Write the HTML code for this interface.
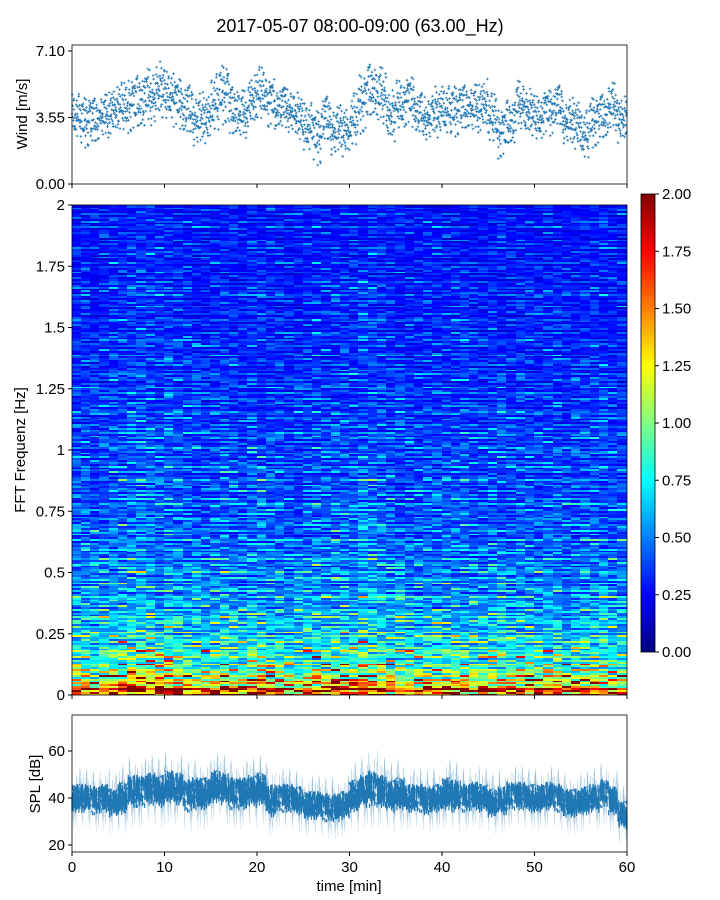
<!DOCTYPE html>
<html><head><meta charset="utf-8"><style>
body{margin:0;background:#fff;width:720px;height:900px;overflow:hidden;font-family:"Liberation Sans",sans-serif}
#wrap{position:relative;width:720px;height:900px}
svg{position:absolute;left:0;top:0}
#heat{position:absolute;left:72px;top:205px;width:555px;height:490px;image-rendering:pixelated}
</style></head><body>
<div id="wrap">
<canvas id="heat" width="555" height="490"></canvas>
<svg id="s" width="720" height="900"></svg>
</div>
<script>
// ---- data ----
const minutes=[0,1,2,3,4,5,6,7,8,9,10,11,12,13,14,15,16,17,18,19,20,21,22,23,24,25,26,27,28,29,30,31,32,33,34,35,36,37,38,39,40,41,42,43,44,45,46,47,48,49,50,51,52,53,54,55,56,57,58,59];
const windMean=[3.6,3.4,3.4,3.6,3.9,4.1,4.3,4.4,4.6,5.0,4.7,4.4,4.0,3.4,3.5,4.3,4.9,3.9,3.7,4.4,4.8,4.4,4.1,3.9,3.6,3.0,2.6,3.5,2.8,2.8,3.4,4.4,5.0,4.7,3.6,4.2,4.5,3.8,3.5,3.8,3.9,4.0,4.1,4.0,4.2,3.5,2.8,3.3,4.2,3.8,3.5,3.9,4.2,3.3,3.2,2.6,3.4,3.6,4.1,3.4];
const windSpread=[1.0,1.1,1.1,1.0,1.0,1.1,1.2,1.3,1.3,1.2,1.1,1.1,1.2,1.2,1.1,1.3,1.3,1.2,1.1,1.1,1.2,1.1,1.0,1.0,1.0,1.1,1.2,1.1,1.1,1.1,1.2,1.3,1.3,1.3,1.1,1.1,1.1,1.0,1.0,1.1,1.1,1.1,1.1,1.1,1.1,1.1,1.1,1.1,1.1,1.0,1.0,1.0,1.0,1.0,1.1,1.1,1.1,1.1,1.1,1.0];
const splMean=[40,40,39,40,38,40,43,43,44,43,45,44,41,42,42,45,44,42,42,43,44,39,40,40,39,37,37,36,36,37,41,43,44,43,41,42,40,40,39,40,42,41,40,41,40,38,39,41,41,40,40,41,40,38,38,39,40,42,39,33];
const splSpread=[7,7,7,7,7,8,8,8,8,8,8,8,8,8,8,8,8,8,8,8,8,8,7,7,7,7,7,7,7,7,8,8,9,8,8,8,7,7,7,7,8,8,7,7,7,7,7,7,7,7,7,7,7,7,7,7,7,7,7,7];
const noiseOffsets=[0.1,-0.6,0.4,0.9,-0.2,-0.9,0.3,0.6,-0.4,0.0,0.8,-0.7,0.2,-0.3,0.5,-1.0,0.7,0.1,-0.5,0.35,-0.15,0.95,-0.8,0.45,-0.05,0.25,-0.65,0.75,-0.35,0.55,-0.45,0.15,0.85,-0.25,-0.75,0.65,0.05,-0.55,0.3,-0.1];
const freqProfile=[1.85,1.0,0.8,0.66,0.58,0.52,0.48,0.46,0.44,0.42,0.41,0.39,0.37,0.36,0.35,0.34,0.33,0.32,0.31,0.3,0.3];
const timeFactor=[1.0,1.0,0.95,1.0,1.05,1.05,1.1,1.15,1.1,1.05,1.1,1.05,1.0,1.0,0.95,1.0,1.05,1.0,0.95,1.05,1.05,1.0,1.0,0.95,0.95,1.0,1.05,1.0,1.05,1.05,1.0,1.1,1.1,1.05,1.0,1.0,0.95,0.95,1.0,1.0,1.0,1.0,1.0,0.95,0.95,1.0,1.0,0.95,1.0,1.0,0.95,1.0,1.0,0.95,0.95,1.0,1.0,1.0,0.95,0.95];
const rowTexture=[1.1,0.85,1.0,1.3,0.9,0.75,1.2,0.95,1.05,0.8,1.25,0.85,1.0,1.15,0.8,0.95,1.35,0.9,1.05,0.75,1.2,1.0,0.9,1.3,0.8,1.05,0.95,0.75,1.2,0.9,1.0,1.1,0.8,1.3,0.95,0.85,1.1,0.8,1.2,1.0,0.9,1.25,0.8,1.05,0.95,1.15,0.75,1.05,0.9];
const cellTexture=[1.0,0.6,1.5,0.8,1.2,0.5,1.7,0.9,1.1,0.7,1.4,0.55,1.0,1.3,0.75,1.8,0.65,1.1,0.5,1.25,0.9,1.6,0.7,1.0,0.6,1.45,0.85,1.15,0.65,1.9,0.95,1.2,0.5,1.35,0.75,1.05,1.5];
const xTicks=[0,10,20,30,40,50,60];
const windTicks=["0.00","3.55","7.10"];
const freqTicks=["0","0.25","0.5","0.75","1","1.25","1.5","1.75","2"];
const splTicks=[20,40,60];
const cbarTicks=["0.00","0.25","0.50","0.75","1.00","1.25","1.50","1.75","2.00"];
// ---- layout ----
const L=72,R=627;
const xs=t=>L+(t/60)*(R-L);
const yWind=v=>184-(v/7.1)*133;
const yFreq=f=>695-(f/2)*490;
const ySpl=v=>845-(v-20)/20*47;
const yCb=v=>652-(v/2)*458;
const NS='http://www.w3.org/2000/svg';
const svg=document.getElementById('s');
function mk(tag,attrs,parent){const e=document.createElementNS(NS,tag);for(const k in attrs)e.setAttribute(k,attrs[k]);(parent||svg).appendChild(e);return e;}
function txt(x,y,s,anchor,size,parent){const t=mk('text',{x:x,y:y,'text-anchor':anchor,'font-size':size||15,'font-family':'Liberation Sans, sans-serif',fill:'#000'},parent);t.textContent=s;return t;}
function jet(t){t=Math.max(0,Math.min(1,t));const c=v=>Math.round(255*Math.max(0,Math.min(1,v)));return [c(1.5-Math.abs(4*t-3)),c(1.5-Math.abs(4*t-2)),c(1.5-Math.abs(4*t-1))];}
const ti=txt(360,32,'2017-05-07 08:00-09:00 (63.00_Hz)','middle',18);

// ---- wind panel ----
const gW=mk('g',{});
minutes.forEach((m,i)=>{let d='';
 for(let k=0;k<noiseOffsets.length;k++){
  const v=windMean[i]+windSpread[i]*(noiseOffsets[(k*3+i)%40]*0.9+noiseOffsets[(k*7+i*5)%40]*0.6);
  const x=xs(m+k/noiseOffsets.length),y=yWind(v);
  d+=`M${(x-1.3).toFixed(1)} ${y.toFixed(1)}h2.6M${x.toFixed(1)} ${(y-1.3).toFixed(1)}v2.6`;}
 const p=mk('path',{d:d,stroke:'#1f77b4','stroke-width':0.8,fill:'none'},gW);
 });
const fW=mk('rect',{x:L,y:45,width:R-L,height:139,fill:'none',stroke:'#000','stroke-width':0.8});

windTicks.forEach(s=>{const y=yWind(parseFloat(s));mk('line',{x1:L-4,x2:L,y1:y,y2:y,stroke:'#000'});const t=txt(L-7,y+5,s,'end');});
xTicks.forEach(v=>mk('line',{x1:xs(v),x2:xs(v),y1:184,y2:188,stroke:'#000'}));
const wl=txt(0,0,'Wind [m/s]','middle',15);wl.setAttribute('transform','translate(27,114) rotate(-90)');
// ---- heatmap ----
const cv=document.getElementById('heat'),ctx=cv.getContext('2d');
const nRows=260,nCols=60;
for(let r=0;r<nRows;r++){const f=(r+0.5)/nRows*2;const fi=f/0.1,i0=Math.floor(fi),i1=Math.min(20,i0+1),fr=fi-i0;
 const base=freqProfile[i0]*(1-fr)+freqProfile[i1]*fr;
 for(let c=0;c<nCols;c++){const tex=cellTexture[(r*31+c*17+(r*c)%11)%cellTexture.length]*cellTexture[(r*5+c*29+3)%cellTexture.length];
  const v=base*rowTexture[r%rowTexture.length]*timeFactor[c]*(0.45+0.5*Math.min(tex,2.6));
  const col=jet(v/2);ctx.fillStyle=`rgb(${col[0]},${col[1]},${col[2]})`;
  const x0=xs(c)-L,x1=xs(c+1)-L,y0=yFreq(f+1/nRows)-205,y1=yFreq(f-1/nRows)-205;
  ctx.fillRect(Math.floor(x0),Math.floor(y0),Math.ceil(x1-x0)+1,Math.ceil(y1-y0)+1);}}
const fH=mk('rect',{x:L,y:205,width:R-L,height:490,fill:'none',stroke:'#000','stroke-width':0.8});

freqTicks.forEach(s=>{const y=yFreq(parseFloat(s));mk('line',{x1:L-4,x2:L,y1:y,y2:y,stroke:'#000'});const t=txt(L-7,y+5,s,'end');});
xTicks.forEach(v=>mk('line',{x1:xs(v),x2:xs(v),y1:695,y2:699,stroke:'#000'}));
const fl=txt(0,0,'FFT Frequenz [Hz]','middle',15);fl.setAttribute('transform','translate(25,450) rotate(-90)');
const defs=mk('defs',{});const lg=mk('linearGradient',{id:'jetg',x1:0,y1:1,x2:0,y2:0},defs);
for(let i=0;i<=16;i++){const c=jet(i/16);mk('stop',{offset:(i/16),'stop-color':`rgb(${c})`},lg);}
const cb=mk('rect',{x:641,y:194,width:14,height:458,fill:'url(#jetg)',stroke:'#000','stroke-width':0.8});

cbarTicks.forEach(s=>{const y=yCb(parseFloat(s));mk('line',{x1:655,x2:659,y1:y,y2:y,stroke:'#000'});const t=txt(662,y+5,s,'start');});
// ---- SPL panel ----
const gS=mk('g',{});
minutes.forEach((m,i)=>{let d='',dl='';
 for(let k=0;k<noiseOffsets.length;k++){
  const a=splMean[i]+splSpread[i]*noiseOffsets[(k+i*3)%40]*0.9,b=splMean[i]+splSpread[i]*noiseOffsets[(k*3+i+5)%40]*0.9;
  const x=xs(m+k/noiseOffsets.length);
  d+=`M${x.toFixed(1)} ${ySpl(a).toFixed(1)}V${ySpl(b).toFixed(1)}`;
  const e=splMean[i]+splSpread[i]*1.9*noiseOffsets[(k*11+i)%40];
  dl+=`M${(x+0.7).toFixed(1)} ${ySpl(splMean[i]).toFixed(1)}V${ySpl(e).toFixed(1)}`;}
 const pl=mk('path',{d:dl,stroke:'#1f77b4','stroke-width':0.5,'stroke-opacity':0.3,fill:'none'},gS);
 
 const p=mk('path',{d:d,stroke:'#1f77b4','stroke-width':1.2,fill:'none'},gS);
 });
const fS=mk('rect',{x:L,y:715,width:R-L,height:137,fill:'none',stroke:'#000','stroke-width':0.8});

splTicks.forEach(v=>{const y=ySpl(v);mk('line',{x1:L-4,x2:L,y1:y,y2:y,stroke:'#000'});const t=txt(L-7,y+5,String(v),'end');});
xTicks.forEach(v=>{mk('line',{x1:xs(v),x2:xs(v),y1:852,y2:856,stroke:'#000'});const t=txt(xs(v),872,String(v),'middle');});
const sl=txt(0,0,'SPL [dB]','middle',15);sl.setAttribute('transform','translate(40,784) rotate(-90)');
const xl=txt(349,891,'time [min]','middle',15);
</script>
</body></html>
